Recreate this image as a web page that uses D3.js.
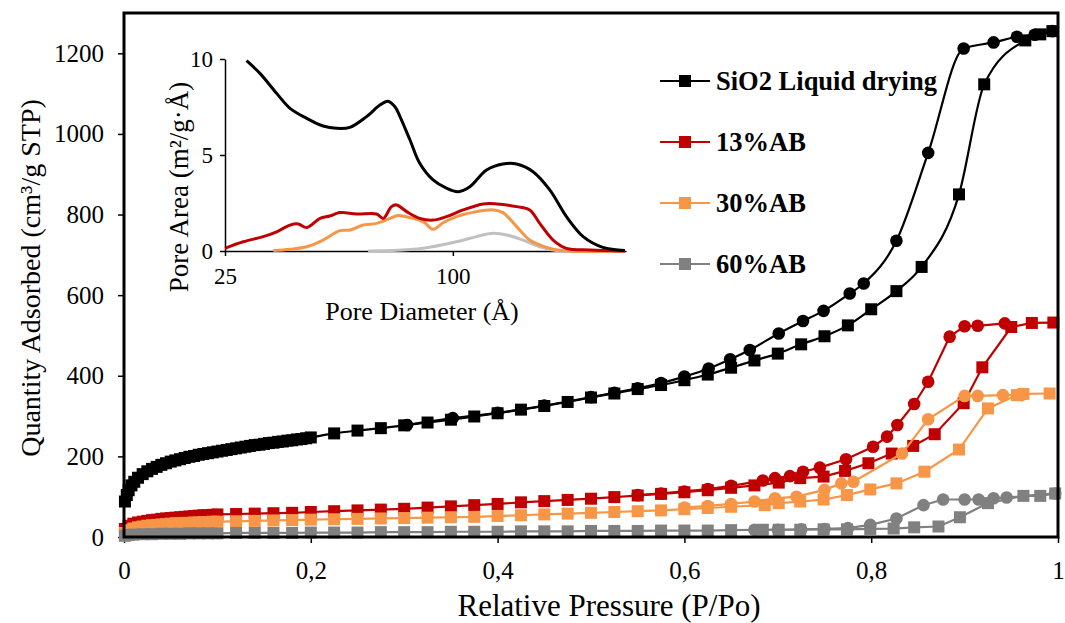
<!DOCTYPE html>
<html>
<head>
<meta charset="utf-8">
<script src="https://cdn.jsdelivr.net/npm/d3@7"></script>
<style>
body { margin: 0; background: #fff; }
text { font-family: "Liberation Serif", "Times New Roman", serif; }
</style>
</head>
<body>
<svg width="1065" height="623"></svg>
<script>
var seriesNames  = ['SiO2 Liquid drying', '13%AB', '30%AB', '60%AB'];
var seriesColors = ['#000000', '#C00000', '#F79646', '#808080'];
var insetColors  = ['#000000', '#C00000', '#F79646', '#C0C0C0'];

var yTicks = [0, 200, 400, 600, 800, 1000, 1200];
var xTicks = [0, 0.2, 0.4, 0.6, 0.8, 1];
var xTickLabels = ['0', '0,2', '0,4', '0,6', '0,8', '1'];
var insetYTicks = [0, 5, 10];
var insetXTicks = [25, 100];

// adsorption (squares) and desorption (circles), [P/Po, cm3/g STP]
var sio2Ads = [[0.001,88],[0.003,104],[0.005,116],[0.008,128],[0.011,137],[0.015,147],[0.02,156],[0.025,163],[0.03,169],[0.035,174],[0.04,179],[0.045,183],[0.05,187],[0.055,190],[0.06,193],[0.065,196],[0.07,199],[0.075,201],[0.08,204],[0.085,206],[0.09,208],[0.095,210],[0.1,212],[0.105,214],[0.11,216],[0.115,218],[0.12,220],[0.125,222],[0.13,224],[0.135,226],[0.14,228],[0.145,229],[0.15,231],[0.155,233],[0.16,234],[0.165,236],[0.17,237],[0.175,239],[0.18,240],[0.185,242],[0.19,243],[0.195,245],[0.2,247],[0.225,257],[0.25,264],[0.275,270],[0.3,277],[0.325,284],[0.35,291],[0.375,299],[0.4,307],[0.425,316],[0.45,325],[0.475,335],[0.5,346],[0.525,356],[0.55,367],[0.575,377],[0.6,389],[0.625,403],[0.65,420],[0.675,438],[0.7,455],[0.725,478],[0.75,498],[0.775,525],[0.8,565],[0.827,610],[0.854,670],[0.894,850],[0.921,1123],[0.965,1232],[0.981,1247],[0.994,1255]];
var sio2Des = [[0.994,1255],[0.975,1246],[0.956,1241],[0.931,1227],[0.899,1212],[0.861,953],[0.827,735],[0.792,629],[0.777,604],[0.749,561],[0.727,536],[0.701,505],[0.67,464],[0.649,441],[0.626,418],[0.6,398],[0.575,382],[0.55,369],[0.525,358],[0.5,347],[0.45,326],[0.4,308],[0.352,295],[0.303,278]];

var ab13Ads = [[0.001,20],[0.005,28],[0.01,33],[0.015,36],[0.02,38],[0.025,40],[0.03,42],[0.035,43],[0.04,45],[0.045,46],[0.05,47],[0.055,48],[0.06,49],[0.065,50],[0.07,51],[0.075,52],[0.08,53],[0.085,54],[0.09,54],[0.095,55],[0.1,56],[0.12,57],[0.14,58],[0.16,59],[0.18,60],[0.2,62],[0.225,64],[0.25,66],[0.275,68],[0.3,70],[0.325,73],[0.35,76],[0.375,79],[0.4,82],[0.425,86],[0.45,89],[0.475,92],[0.5,95],[0.525,99],[0.55,103],[0.575,107],[0.6,111],[0.625,116],[0.65,122],[0.675,128],[0.701,135],[0.724,146],[0.749,150],[0.772,164],[0.797,183],[0.822,207],[0.845,226],[0.868,255],[0.899,332],[0.919,421],[0.95,521],[0.972,531],[0.995,532]];
var ab13Des = [[0.943,530],[0.914,524],[0.9,523],[0.884,497],[0.861,385],[0.846,330],[0.828,278],[0.817,249],[0.802,224],[0.773,193],[0.745,172],[0.727,162],[0.713,151],[0.697,146],[0.684,140],[0.65,127],[0.625,119],[0.6,113],[0.575,108],[0.55,104]];

var ab30Ads = [[0.001,10],[0.005,17],[0.01,21],[0.015,24],[0.02,26],[0.025,28],[0.03,29],[0.035,30],[0.04,31],[0.045,32],[0.05,33],[0.055,34],[0.06,34],[0.065,35],[0.07,35],[0.075,36],[0.08,36],[0.085,37],[0.09,37],[0.095,38],[0.1,38],[0.12,39],[0.14,40],[0.16,41],[0.18,42],[0.2,43],[0.225,44],[0.25,45],[0.275,46],[0.3,47],[0.325,48],[0.35,49],[0.375,50],[0.4,52],[0.425,54],[0.45,56],[0.475,58],[0.5,60],[0.525,62],[0.55,64],[0.575,66],[0.6,69],[0.625,72],[0.65,75],[0.686,79],[0.701,84],[0.724,88],[0.749,93],[0.774,104],[0.799,118],[0.827,133],[0.857,162],[0.894,217],[0.925,319],[0.956,352],[0.963,355],[0.991,356]];
var ab30Des = [[0.961,352],[0.941,352],[0.914,350],[0.9,350],[0.861,292],[0.833,207],[0.781,137],[0.768,133],[0.75,117],[0.72,100],[0.697,96],[0.675,88],[0.65,82],[0.625,77],[0.6,73]];

var ab60Ads = [[0.001,3],[0.005,5],[0.01,6],[0.02,7],[0.03,7],[0.04,8],[0.05,8],[0.06,8],[0.07,9],[0.08,9],[0.09,9],[0.1,9],[0.12,10],[0.14,10],[0.16,10],[0.18,10],[0.2,11],[0.225,11],[0.25,11],[0.275,12],[0.3,12],[0.325,12],[0.35,13],[0.375,13],[0.4,13],[0.425,14],[0.45,14],[0.475,14],[0.5,15],[0.525,15],[0.55,15],[0.575,16],[0.6,16],[0.625,16],[0.65,17],[0.684,18],[0.701,18],[0.724,18],[0.749,19],[0.774,19],[0.799,20],[0.824,21],[0.846,24],[0.872,26],[0.895,49],[0.925,84],[0.963,102],[0.981,102],[0.997,108]];
var ab60Des = [[0.997,108],[0.945,98],[0.931,96],[0.915,93],[0.9,93],[0.877,93],[0.856,79],[0.827,46],[0.799,30],[0.775,22],[0.75,20],[0.725,19],[0.7,18],[0.675,18]];

// inset: pore diameter (A) vs pore area (m2/g.A)
var poreSio2 = [[32.1,9.91],[36.5,9.25],[42,8.21],[46.4,7.43],[51.9,6.91],[57.3,6.51],[61.7,6.39],[66.1,6.44],[71.6,7.0],[76,7.6],[78.6,7.8],[81,7.5],[82.6,7.0],[85.9,5.78],[89.1,4.57],[93.5,3.7],[97.9,3.27],[101.7,3.09],[105.6,3.35],[111.1,4.22],[116.5,4.53],[121,4.53],[126.4,4.13],[131.9,3.18],[137.4,1.79],[142.9,0.75],[149.4,0.19],[156.6,0.03]];
var pore13 = [[25,0.14],[31,0.48],[37.6,0.75],[42,1.0],[46.4,1.35],[49.1,1.41],[51.9,1.22],[56.3,1.7],[59.5,1.82],[62.8,2.0],[68.3,1.93],[74.9,1.93],[77.1,1.7],[79.8,2.31],[81.5,2.4],[84.8,2.05],[89.1,1.7],[93.5,1.61],[97.9,1.79],[103.4,2.14],[110,2.45],[114.4,2.45],[121,2.31],[125.3,2.14],[128.6,1.44],[133,0.57],[137.4,0.14],[145,0.05],[156.6,0]];
var pore30 = [[40.9,0.02],[46.4,0.09],[51.9,0.22],[57.3,0.57],[62.8,1.06],[66.1,1.09],[70.5,1.35],[74.9,1.44],[79.3,1.7],[82,1.85],[84.5,1.79],[90.2,1.53],[93.5,1.13],[96.8,1.47],[101.2,1.79],[107.8,2.05],[113.3,2.14],[116.5,2.0],[121,1.27],[125.3,0.57],[130.8,0.19],[136,0.02],[156.6,0]];
var pore60 = [[72.1,0],[80,0.02],[90.2,0.14],[101.2,0.48],[107.8,0.75],[113.3,0.92],[117.7,0.83],[123.1,0.57],[128.6,0.22],[134,0.02],[156.6,0]];

var adsSets = [sio2Ads, ab13Ads, ab30Ads, ab60Ads];
var desSets = [sio2Des, ab13Des, ab30Des, ab60Des];
var poreSets = [poreSio2, pore13, pore30, pore60];

var svg = d3.select('svg');

var x = d3.scaleLinear().domain([0, 1]).range([124, 1058]);
var y = d3.scaleLinear().domain([0, 1300]).range([537, 13]);

// axes
var yAxis = svg.append('g').attr('transform', 'translate(124,0)')
  .call(d3.axisLeft(y).tickValues(yTicks).tickSize(6).tickPadding(14)
    .tickFormat(function(d) { return String(d); }));
yAxis.select('.domain').remove();
yAxis.selectAll('line').attr('stroke', '#000').attr('stroke-width', 1.5);
yAxis.selectAll('text').style('font-size', '25px').attr('fill', '#000');

var xAxis = svg.append('g').attr('transform', 'translate(0,537)')
  .call(d3.axisBottom(x).tickValues(xTicks).tickSize(6).tickPadding(18)
    .tickFormat(function(d, i) { return xTickLabels[i]; }));
xAxis.select('.domain').remove();
xAxis.selectAll('line').attr('stroke', '#000').attr('stroke-width', 1.5);
xAxis.selectAll('text').style('font-size', '25px').attr('fill', '#000');

svg.append('text')
  .attr('transform', 'translate(40,278) rotate(-90)')
  .attr('text-anchor', 'middle')
  .style('font-size', '28px')
  .text('Quantity Adsorbed (cm\u00b3/g STP)');
svg.append('text')
  .attr('x', 609).attr('y', 616)
  .attr('text-anchor', 'middle')
  .style('font-size', '31px')
  .text('Relative Pressure (P/Po)');

// series, drawn back to front
var plot = svg.append('g');
adsSets.forEach(function(ads, i) {
  var curve = i === 0 ? d3.curveMonotoneX : d3.curveLinear;
  var line = d3.line()
    .x(function(d) { return x(d[0]); })
    .y(function(d) { return y(d[1]); })
    .curve(curve);
  var g = plot.append('g');
  var adsSorted = ads.slice().sort(function(a, b) { return a[0] - b[0]; });
  var desSorted = desSets[i].slice().sort(function(a, b) { return a[0] - b[0]; });
  g.append('path').attr('d', line(adsSorted))
    .attr('fill', 'none').attr('stroke', seriesColors[i]).attr('stroke-width', 2.2);
  g.append('path').attr('d', line(desSorted))
    .attr('fill', 'none').attr('stroke', seriesColors[i]).attr('stroke-width', 2.2);
  g.selectAll('rect.m').data(ads).enter().append('rect')
    .attr('x', function(d) { return x(d[0]) - 6; })
    .attr('y', function(d) { return y(d[1]) - 6; })
    .attr('width', 12).attr('height', 12)
    .attr('fill', seriesColors[i]);
  g.selectAll('circle').data(desSets[i]).enter().append('circle')
    .attr('cx', function(d) { return x(d[0]); })
    .attr('cy', function(d) { return y(d[1]); })
    .attr('r', 6.3)
    .attr('fill', seriesColors[i]);
});

// frame
svg.append('rect').attr('x', 124).attr('y', 13).attr('width', 934).attr('height', 524)
  .attr('fill', 'none').attr('stroke', '#000').attr('stroke-width', 3);

// legend
var legend = svg.append('g');
seriesNames.forEach(function(name, i) {
  var ly = 81 + i * 61;
  legend.append('line').attr('x1', 660).attr('x2', 710).attr('y1', ly).attr('y2', ly)
    .attr('stroke', seriesColors[i]).attr('stroke-width', 2);
  legend.append('rect').attr('x', 679).attr('y', ly - 6).attr('width', 12).attr('height', 12)
    .attr('fill', seriesColors[i]);
  legend.append('text').attr('x', 716).attr('y', ly + 9)
    .style('font-size', '26.5px').style('font-weight', 'bold')
    .text(name);
});

// inset
var ix = d3.scaleLinear().domain([25, 157]).range([225, 626]);
var iy = d3.scaleLinear().domain([0, 10]).range([251, 59]);

var iyAxis = svg.append('g').attr('transform', 'translate(225,0)')
  .call(d3.axisLeft(iy).tickValues(insetYTicks).tickSize(5).tickSizeOuter(0).tickPadding(7));
iyAxis.selectAll('path,line').attr('stroke', '#000').attr('stroke-width', 1.5);
iyAxis.selectAll('text').style('font-size', '23px').attr('fill', '#000');

var ixAxis = svg.append('g').attr('transform', 'translate(0,251)')
  .call(d3.axisBottom(ix).tickValues(insetXTicks).tickSize(5).tickSizeOuter(0).tickPadding(12));
ixAxis.selectAll('path,line').attr('stroke', '#000').attr('stroke-width', 1.5);
ixAxis.selectAll('text').style('font-size', '23px').attr('fill', '#000');

svg.append('text')
  .attr('transform', 'translate(188,187) rotate(-90)')
  .attr('text-anchor', 'middle')
  .style('font-size', '27px')
  .text('Pore Area (m\u00b2/g\u00b7\u00c5)');
svg.append('text')
  .attr('x', 422).attr('y', 320)
  .attr('text-anchor', 'middle')
  .style('font-size', '26px')
  .text('Pore Diameter (\u00c5)');

var iline = d3.line()
  .x(function(d) { return ix(d[0]); })
  .y(function(d) { return iy(d[1]); })
  .curve(d3.curveCatmullRom);
[3, 2, 1, 0].forEach(function(i) {
  svg.append('path').attr('d', iline(poreSets[i]))
    .attr('fill', 'none').attr('stroke', insetColors[i]).attr('stroke-width', 3);
});
</script>
</body>
</html>
